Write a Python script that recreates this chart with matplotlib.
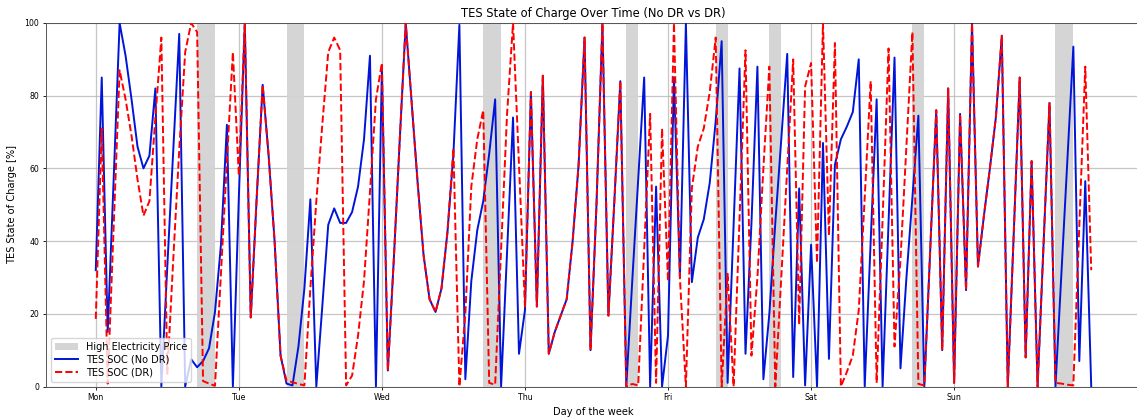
"""
TES state of charge over one week, with and without demand response (DR).

Hourly SOC values for both cases are plotted over the week; the hours with a
high electricity price are shaded.  Output: out.png (1137x418).
"""

import numpy as np
import matplotlib
matplotlib.use("Agg")
import matplotlib.pyplot as plt

# hourly SOC [%], Mon 00:00 .. Sun 23:00 (168 values each)
soc_no_dr = [
    32, 85, 15, 57, 100, 91, 79, 66, 60, 63.5, 82, 0,
    33, 65, 97, 0, 7.5, 5.3, 7, 10.5, 20.5, 39, 72, 0,
    52, 100, 19, 52, 83, 63.5, 40, 8.5, 0.8, 0.3, 11, 27,
    51.5, 0, 22, 44.5, 49, 45, 45, 48, 55, 68, 91, 0,
    87.5, 4.4, 35, 68, 100, 78, 56, 36, 24, 20.5, 27, 42.5,
    64, 99.5, 2, 29, 43, 51, 64, 79, 0, 37, 74, 9,
    21, 81, 22, 85.5, 9, 15, 19.5, 24, 40, 61, 96, 10,
    50, 100, 19.5, 51, 84, 0, 29, 57, 85, 0, 55, 0,
    14, 85, 30, 100, 28.7, 41, 46, 56, 73, 95, 1, 44,
    87.5, 9, 45, 88, 2, 20, 45, 68, 91.5, 2.6, 54.5, 0.3,
    39, 0, 67, 7.6, 61, 68, 71.5, 75.5, 90, 0, 40, 79,
    0, 45, 90.5, 5, 30, 52, 74.5, 0, 38, 76, 10, 82,
    1, 75, 26.5, 100, 33, 47, 60, 74, 96.5, 0, 42, 85,
    8, 62, 0, 39, 78, 0, 31, 62, 93.5, 7, 56.5, 0,
]

soc_dr = [
    18.6, 71, 0.8, 44, 87, 79, 69, 57, 47, 51, 74, 96,
    3.5, 35, 65, 92, 100, 97.5, 1.5, 0.8, 0.2, 31, 62, 92,
    58, 100, 19, 52, 83, 63.5, 40, 8.5, 1.6, 1.2, 0.7, 0.3,
    27, 51, 72, 92, 96, 92.5, 0.3, 3, 14, 29, 53.5, 79,
    89, 4.4, 35, 68, 100, 78, 56, 36, 24, 20.5, 27, 42.5,
    65.5, 0, 20, 55, 68, 76, 1, 0.5, 38, 75, 100, 61,
    22, 81, 22, 85.5, 9, 15, 19.5, 24, 40, 61, 96, 10,
    50, 100, 19.5, 51, 84, 0, 0.7, 0.3, 38, 75, 1, 71,
    29, 100, 29.7, 0, 54.5, 66, 71, 81, 96, 0, 31, 0,
    46, 92.5, 8.5, 30, 60, 88, 0, 30, 60, 90, 17, 82.5,
    89, 34, 100, 41.5, 94.5, 0, 4, 8.5, 21, 52, 84, 1,
    46, 93, 11, 35, 66, 97.5, 0.7, 0.3, 38, 76, 10, 82,
    1, 75, 26.5, 100, 33, 47, 60, 74, 96.5, 0, 42, 85,
    8, 62, 0, 39, 78, 1, 0.8, 0.5, 0.3, 44, 88, 32,
]

# high electricity price periods, hour of week [start, end)
peak_start = [17, 32, 65, 89, 104, 113, 137, 161]
peak_end = [20, 35, 68, 91, 106, 115, 139, 164]

day_names = ["Mon", "Tue", "Wed", "Thu", "Fri", "Sat", "Sun"]
day_hours = [0, 24, 48, 72, 96, 120, 144]


def main():
    W, H = 1137, 418
    fig = plt.figure(figsize=(W / 100, H / 100), dpi=100)
    # the source image is cut off a few pixels before the right spine
    ax = fig.add_axes([46 / W, 31.5 / H, 1095 / W, 363.5 / H])

    hours = np.arange(len(soc_no_dr))

    for i, (s, e) in enumerate(zip(peak_start, peak_end)):
        ax.axvspan(s, e, color="lightgray", alpha=0.95, lw=0,
                   label="High Electricity Price" if i == 0 else None, zorder=1)

    ax.plot(hours, soc_no_dr, "-", color="#0015d8", lw=1.4,
            label="TES SOC (No DR)", zorder=3)
    ax.plot(hours, soc_dr, "--", color="#ff0000", lw=1.4,
            label="TES SOC (DR)", zorder=4)

    ax.set_xlim(-8.35, 175.35)
    ax.set_ylim(0, 100)
    ax.set_xticks(day_hours)
    ax.set_xticklabels(day_names)
    ax.set_yticks(range(0, 101, 20))
    ax.tick_params(labelsize=5.6, length=2.5, width=0.6, pad=2.5)

    ax.set_title("TES State of Charge Over Time (No DR vs DR)", fontsize=8.3, pad=4)
    ax.set_xlabel("Day of the week", fontsize=7.1, labelpad=3)
    ax.set_ylabel("TES State of Charge [%]", fontsize=7.1, labelpad=5)

    ax.grid(True, color="#b8b8b8", lw=0.9, alpha=0.8, zorder=0)
    ax.set_axisbelow(True)
    for sp in ax.spines.values():
        sp.set_linewidth(0.7)
        sp.set_color("#555555")

    ax.legend(loc="lower left", fontsize=7, framealpha=0.8,
              borderpad=0.4, labelspacing=0.3, handlelength=2.4)

    fig.savefig("out.png", dpi=100)
    plt.close(fig)


if __name__ == "__main__":
    main()
